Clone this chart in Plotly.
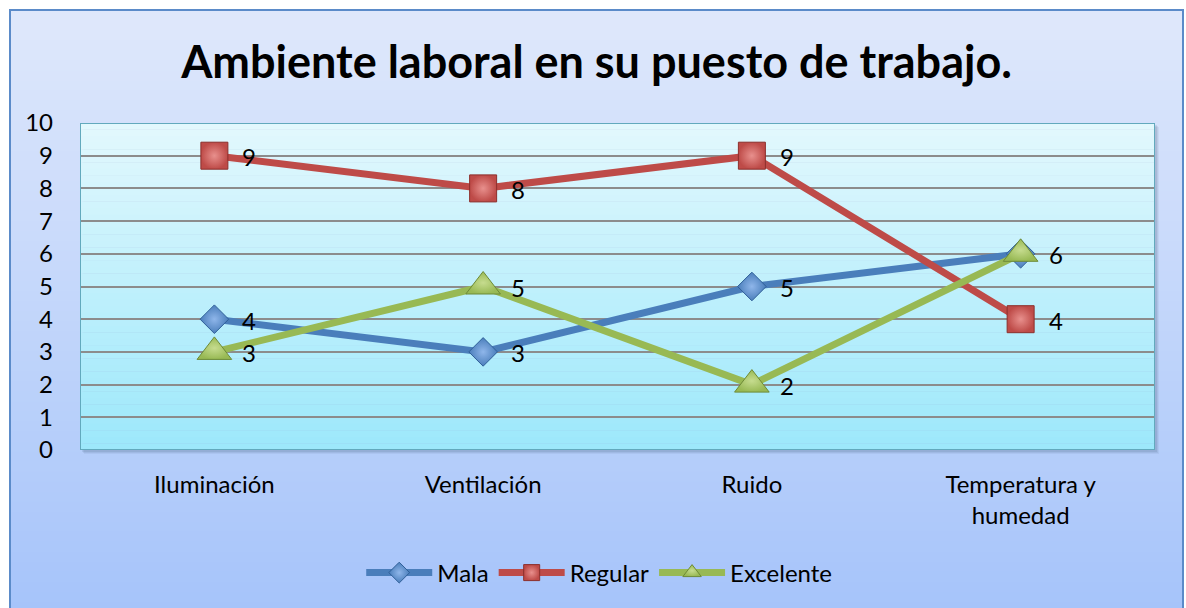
import plotly.graph_objects as go

# Chart data
categories = ["Iluminación", "Ventilación", "Ruido", "Temperatura y<br>humedad"]
mala = [4, 3, 5, 6]
regular = [9, 8, 9, 4]
excelente = [3, 5, 2, 6]
y_ticks = list(range(0, 11))

W, H = 1186, 608
L, R, T, B = 80, 31, 123, 158
font_family = "Lato, Carlito, Calibri, sans-serif"
FS = 24


def lerp(c1, c2, t):
    return "rgb(%d,%d,%d)" % tuple(round(a + (b - a) * t) for a, b in zip(c1, c2))


def px_to_paper_x(px):
    return (px - L) / (W - L - R)


def px_to_paper_y(py):
    return (H - B - py) / (H - T - B)


shapes = []

# Outer chart area: vertical gradient
top_c, bot_c = (223, 232, 251), (166, 196, 250)
n = 60
y_top, y_bot = 10, 612
for i in range(n):
    p0 = y_top + (y_bot - y_top) * i / n
    p1 = y_top + (y_bot - y_top) * (i + 1) / n + 1
    shapes.append(dict(
        type="rect", xref="paper", yref="paper", layer="below",
        x0=px_to_paper_x(10), x1=px_to_paper_x(1183),
        y0=px_to_paper_y(p1), y1=px_to_paper_y(p0),
        fillcolor=lerp(top_c, bot_c, i / (n - 1)), line=dict(width=0)))
shapes.append(dict(
    type="rect", xref="paper", yref="paper", layer="below",
    x0=px_to_paper_x(10), x1=px_to_paper_x(1183),
    y0=px_to_paper_y(y_bot), y1=px_to_paper_y(10),
    fillcolor="rgba(0,0,0,0)", line=dict(color="#5b8bc9", width=2)))

# Soft drop shadow behind the plot area
for k, a in [(4, 0.06), (3, 0.08), (2, 0.10)]:
    shapes.append(dict(
        type="rect", xref="paper", yref="paper", layer="below",
        x0=px_to_paper_x(80 + k), x1=px_to_paper_x(1155 + k),
        y0=px_to_paper_y(450 + k), y1=px_to_paper_y(123 + k),
        fillcolor="rgba(40,60,90,%.2f)" % a, line=dict(width=0)))

# Plot area: vertical gradient in data space
ptop, pbot = (226, 248, 253), (157, 232, 251)
m = 50
for i in range(m):
    y1 = 10 - 10 * i / m
    y0 = 10 - 10 * (i + 1) / m
    shapes.append(dict(
        type="rect", xref="x", yref="y", layer="below",
        x0=-0.5, x1=3.5, y0=y0 - 0.01, y1=y1,
        fillcolor=lerp(ptop, pbot, i / (m - 1)), line=dict(width=0)))
shapes.append(dict(
    type="rect", xref="x", yref="y", layer="above",
    x0=-0.5, x1=3.5, y0=0, y1=10,
    fillcolor="rgba(0,0,0,0)", line=dict(color="#62a9bd", width=2)))

fig = go.Figure()

series = [
    ("Mala", mala, "#4a7ebb", "#8fb6ea", "diamond", 22, "#2f5f98"),
    ("Regular", regular, "#be4b48", "#e8908d", "square", 27, "#8c2f2c"),
    ("Excelente", excelente, "#98b954", "#c6dc8f", "triangle-up", 30, "#6d8a36"),
]
for name, vals, color, light, symbol, size, edge in series:
    fig.add_trace(go.Scatter(
        x=categories, y=vals, name=name, mode="lines+markers",
        line=dict(color=color, width=7),
        marker=dict(symbol=symbol, size=size, color=color,
                    gradient=dict(type="radial", color=light),
                    line=dict(color=edge, width=1)),
        cliponaxis=False,
    ))

# Value labels, to the right of each marker (one label per distinct point)
annotations = []
seen = set()
for _, vals, *_rest in series:
    for cat, v in zip(categories, vals):
        if (cat, v) in seen:
            continue
        seen.add((cat, v))
        annotations.append(dict(
            x=cat, y=v, xref="x", yref="y", text=str(v), showarrow=False,
            xanchor="left", yanchor="middle", xshift=26, yshift=-1,
            font=dict(size=FS, family=font_family, color="#000000")))

fig.update_layout(
    width=W, height=H,
    margin=dict(l=L, r=R, t=T, b=B, pad=0),
    paper_bgcolor="white", plot_bgcolor="rgba(0,0,0,0)",
    font=dict(family=font_family, size=FS, color="#000000"),
    title=dict(text="<b>Ambiente laboral en su puesto de trabajo.</b>",
               x=0.503, xanchor="center", y=1 - 62 / H, yanchor="middle",
               font=dict(size=45, family=font_family, color="#000000")),
    shapes=shapes,
    annotations=annotations,
    showlegend=True,
    legend=dict(orientation="h", x=0.483, xanchor="center",
                y=1 - 573 / H, yref="container", yanchor="middle",
                bgcolor="rgba(0,0,0,0)", itemwidth=66,
                font=dict(size=FS, family=font_family),
                traceorder="normal"),
)
fig.update_xaxes(
    type="category", range=[-0.5, 3.5], showgrid=False,
    showline=False, ticks="", ticklabelstandoff=18,
    tickfont=dict(size=FS, family=font_family),
)
fig.update_yaxes(
    range=[0, 10], tickvals=y_ticks, ticktext=[str(v) for v in y_ticks],
    showgrid=True, gridcolor="#8c8c8c", gridwidth=2,
    zeroline=False, showline=False, ticks="", ticklabelstandoff=26,
    tickfont=dict(size=FS, family=font_family),
)

fig.write_html("out.html")
